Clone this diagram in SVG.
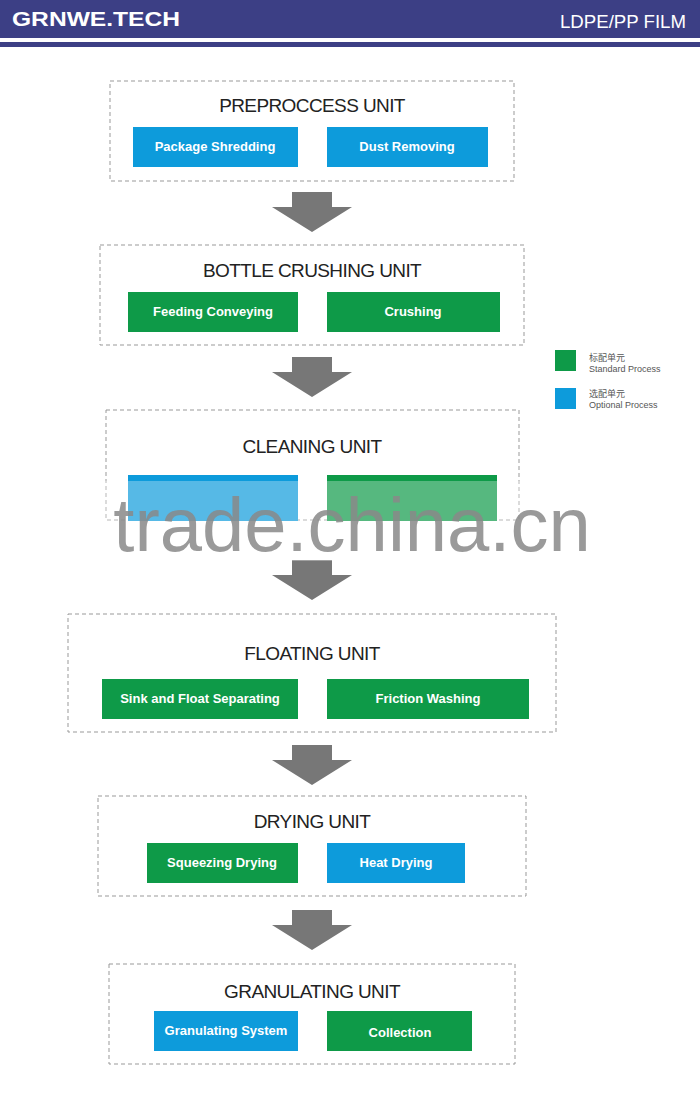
<svg xmlns="http://www.w3.org/2000/svg" width="700" height="1094" viewBox="0 0 700 1094">
<defs>
<style>
.unit{fill:#fff;stroke:#999;stroke-width:1;stroke-dasharray:4 3}
.t{font-family:"Liberation Sans",Arial,sans-serif;font-size:19px;fill:#222;text-anchor:middle;letter-spacing:-0.6px}
.b{fill:#fff;font-family:"Liberation Sans",Arial,sans-serif;font-size:13px;font-weight:bold;text-anchor:middle}
.g{fill:#0e9a48}.bl{fill:#0d9bdb}
.ar{fill:#777}
.lg{font-family:"Liberation Sans","Noto Sans CJK SC",sans-serif;font-size:9px;fill:#555}
</style>
<symbol id="arrow" viewBox="0 0 80 40"><polygon points="20,0 60,0 60,15 80,15 40,40 0,15 20,15"/></symbol>
</defs>
<rect x="0" y="0" width="700" height="38" fill="#3c3f85"/>
<rect x="0" y="42" width="700" height="5" fill="#3c3f85"/>
<text x="12" y="26" font-family="Liberation Sans,Arial,sans-serif" font-size="21" font-weight="bold" fill="#fff" textLength="168" lengthAdjust="spacingAndGlyphs">GRNWE.TECH</text>
<text x="686" y="28" font-family="Liberation Sans,Arial,sans-serif" font-size="19" fill="#fff" text-anchor="end" textLength="126" lengthAdjust="spacingAndGlyphs">LDPE/PP FILM</text>
<g id="connectors" class="ar">
<use href="#arrow" x="272" y="192" width="80" height="40"/>
<use href="#arrow" x="272" y="357" width="80" height="40"/>
<use href="#arrow" x="272" y="560" width="80" height="40"/>
<use href="#arrow" x="272" y="745" width="80" height="40"/>
<use href="#arrow" x="272" y="910" width="80" height="40"/>
</g>
<g id="preprocess">
<rect class="unit" x="110" y="81" width="404" height="100"/>
<text class="t" x="312" y="112">PREPROCCESS UNIT</text>
<rect class="bl" x="133" y="127" width="165" height="40"/><text class="b" x="215" y="151">Package Shredding</text>
<rect class="bl" x="327" y="127" width="161" height="40"/><text class="b" x="407" y="151">Dust Removing</text>
</g>
<g id="bottle">
<rect class="unit" x="100" y="245" width="424" height="100"/>
<text class="t" x="312" y="277">BOTTLE CRUSHING UNIT</text>
<rect class="g" x="128" y="292" width="170" height="40"/><text class="b" x="213" y="316">Feeding Conveying</text>
<rect class="g" x="327" y="292" width="173" height="40"/><text class="b" x="413" y="316">Crushing</text>
</g>
<g id="cleaning">
<rect class="unit" x="106" y="410" width="413" height="110"/>
<text class="t" x="312" y="453">CLEANING UNIT</text>
<rect class="bl" x="128" y="475" width="170" height="46"/>
<rect class="g" x="327" y="475" width="170" height="46"/>
</g>
<g id="watermark">
<rect x="0" y="481" width="700" height="80" fill="#fff" opacity="0.3"/>
<text x="352" y="551" font-family="Liberation Sans,Arial,sans-serif" font-size="76" fill="#888" fill-opacity="0.85" text-anchor="middle">trade.china.cn</text>
</g>
<g id="floating">
<rect class="unit" x="68" y="614" width="488" height="118"/>
<text class="t" x="312" y="660">FLOATING UNIT</text>
<rect class="g" x="102" y="679" width="196" height="40"/><text class="b" x="200" y="703">Sink and Float Separating</text>
<rect class="g" x="327" y="679" width="202" height="40"/><text class="b" x="428" y="703">Friction Washing</text>
</g>
<g id="drying">
<rect class="unit" x="98" y="796" width="428" height="100"/>
<text class="t" x="312" y="828">DRYING UNIT</text>
<rect class="g" x="147" y="843" width="151" height="40"/><text class="b" x="222" y="867">Squeezing Drying</text>
<rect class="bl" x="327" y="843" width="138" height="40"/><text class="b" x="396" y="867">Heat Drying</text>
</g>
<g id="granulating">
<rect class="unit" x="109" y="964" width="406" height="100"/>
<text class="t" x="312" y="998">GRANULATING UNIT</text>
<rect class="bl" x="154" y="1011" width="144" height="40"/><text class="b" x="226" y="1035">Granulating System</text>
<rect class="g" x="327" y="1011" width="145" height="40"/><text class="b" x="400" y="1037">Collection</text>
</g>
<g id="legend">
<rect class="g" x="555" y="350" width="21" height="21"/>
<text class="lg" x="589" y="361">标配单元</text><text class="lg" x="589" y="372">Standard Process</text>
<rect class="bl" x="555" y="388" width="21" height="21"/>
<text class="lg" x="589" y="397">选配单元</text><text class="lg" x="589" y="408">Optional Process</text>
</g>
</svg>
